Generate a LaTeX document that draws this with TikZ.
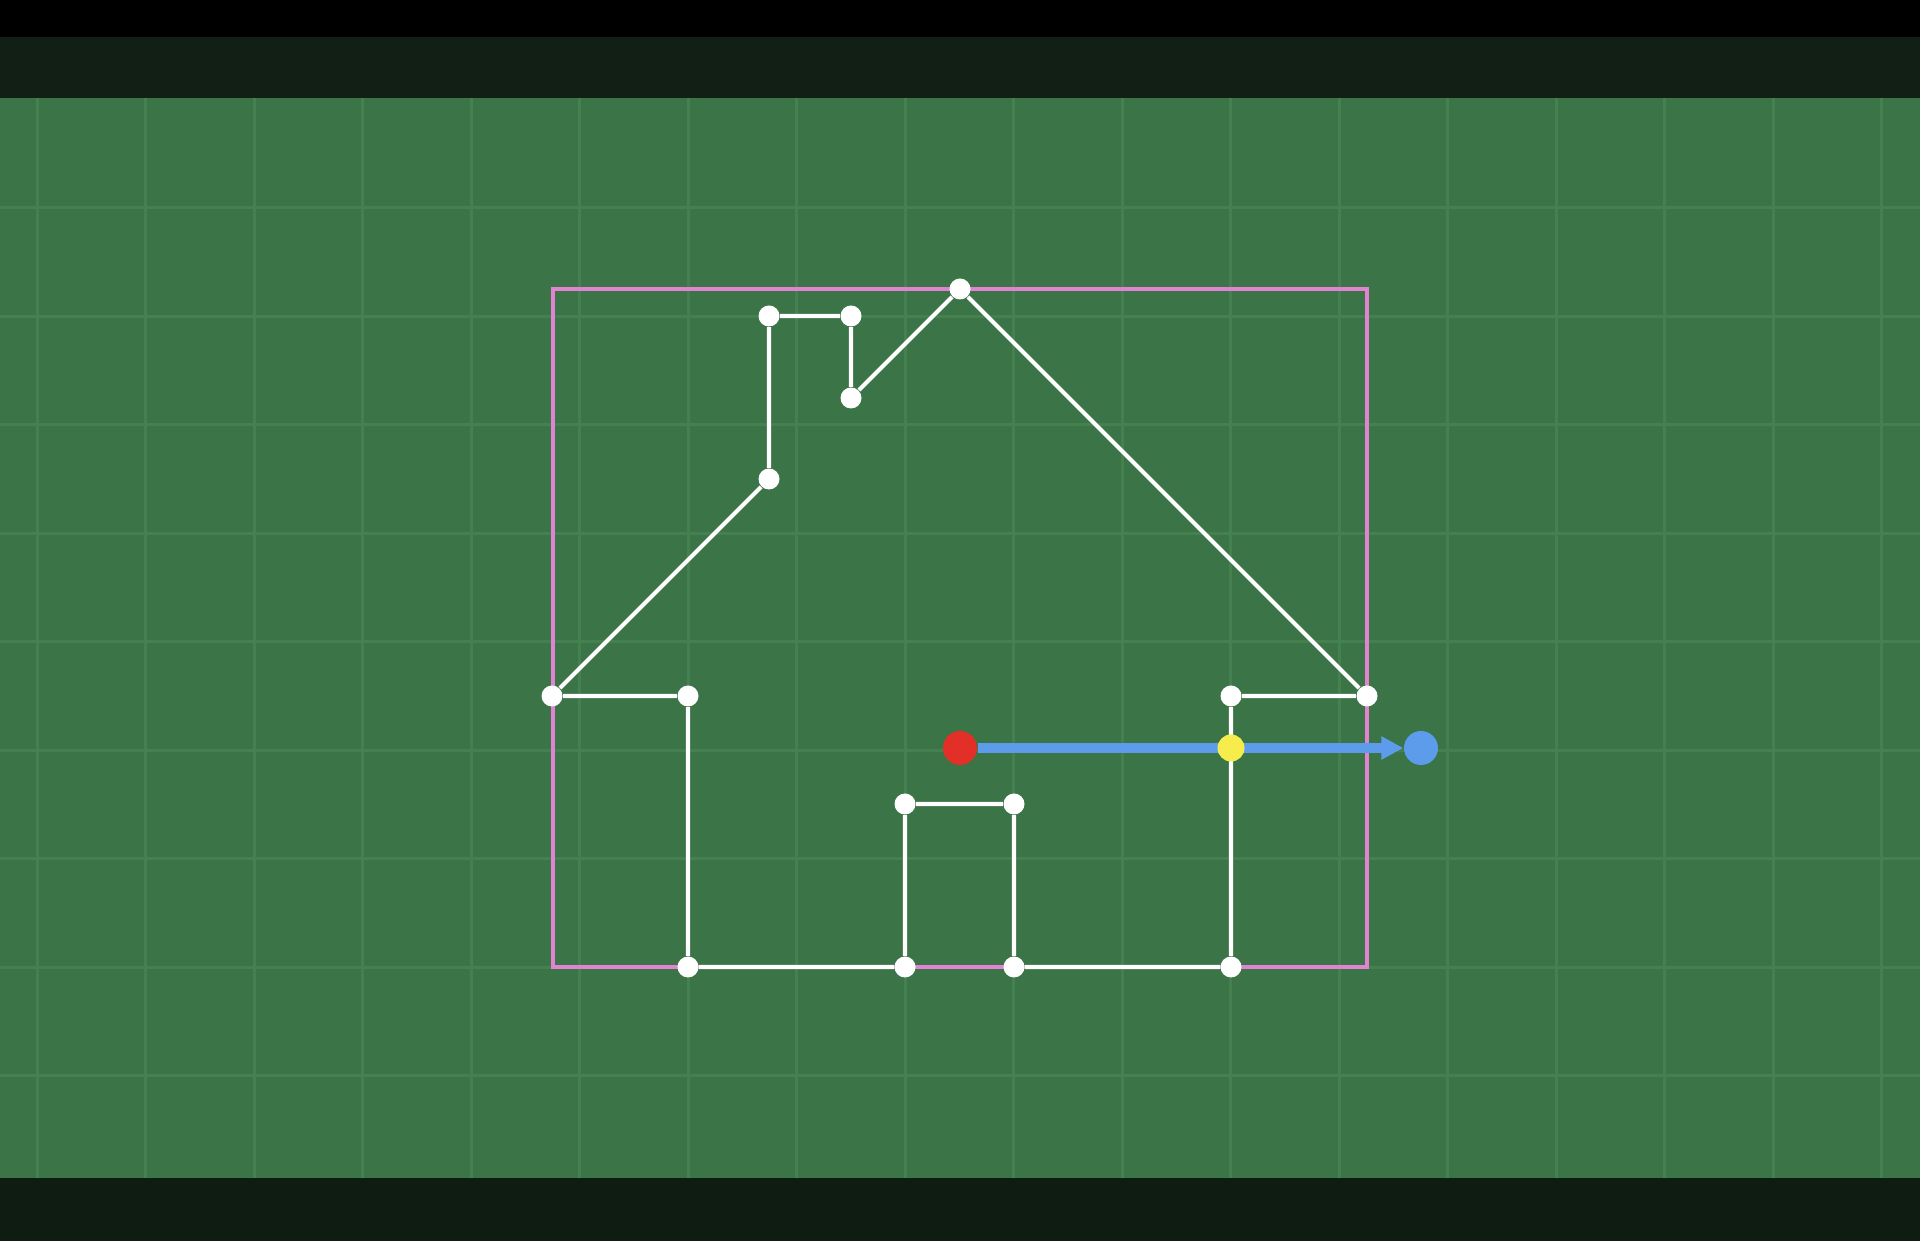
\documentclass[tikz,border=0pt]{standalone}
\usetikzlibrary{arrows.meta}
\definecolor{board}{RGB}{58,116,71}
\definecolor{gridgreen}{RGB}{69,128,81}
\definecolor{topbar}{RGB}{17,31,20}
\definecolor{botbar}{RGB}{15,28,18}
\definecolor{boxpink}{RGB}{226,130,210}
\definecolor{rayblue}{RGB}{92,156,234}
\definecolor{startred}{RGB}{226,48,40}
\definecolor{hityellow}{RGB}{246,236,76}

\begin{document}
\begin{tikzpicture}
[
   x=0.1mm, y=-0.1mm,
   dot/.style={circle, fill=white, inner sep=0pt, minimum size=2.1mm},
   bigdot/.style={circle, inner sep=0pt, minimum size=3.4mm},
   wall/.style={white, line width=1.15pt},
   gridline/.style={gridgreen, line width=0.3mm}]
\useasboundingbox (0,0) rectangle (1920,1241);
\fill[black] (0,0) rectangle (1920,37);
\fill[topbar] (0,37) rectangle (1920,98);
\fill[board] (0,98) rectangle (1920,1178);
\fill[botbar] (0,1178) rectangle (1920,1241);
\foreach \x in {0,...,17} \draw[gridline] (37+108.5*\x,98) -- ++(0,1080);
\foreach \y in {0,...,8} \draw[gridline] (0,208+108.5*\y) -- ++(1920,0);

% bounding box of the polygon
\draw[boxpink, line width=1.4pt] (553,289) rectangle (1367,967);

% house outline
\node[dot] (eaveL) at (552,696) {};
\node[dot] (wallL) at (688,696) {};
\node[dot] (footL) at (688,967) {};
\node[dot] (doorBL) at (905,967) {};
\node[dot] (doorTL) at (905,804) {};
\node[dot] (doorTR) at (1014,804) {};
\node[dot] (doorBR) at (1014,967) {};
\node[dot] (footR) at (1231,967) {};
\node[dot] (wallR) at (1231,696) {};
\node[dot] (eaveR) at (1367,696) {};
\node[dot] (peak) at (960,289) {};
\node[dot] (chimB) at (851,398) {};
\node[dot] (chimTR) at (851,316) {};
\node[dot] (chimTL) at (769,316) {};
\node[dot] (chimL) at (769,479) {};
\draw[wall] (eaveL) -- (wallL) -- (footL) -- (doorBL) -- (doorTL) -- (doorTR)
   -- (doorBR) -- (footR) -- (wallR) -- (eaveR) -- (peak) -- (chimB)
   -- (chimTR) -- (chimTL) -- (chimL) -- (eaveL);

% ray
\node[bigdot, fill=startred] (start) at (960,748) {};
\node[bigdot, fill=rayblue] (target) at (1421,748) {};
\draw[rayblue, line width=1mm, -{Triangle[length=2.2mm, width=2.2mm]}]
   (start) -- (target);
\node[circle, fill=hityellow, inner sep=0pt, minimum size=2.7mm] (hit) at (1231,748) {};
\end{tikzpicture}
\end{document}
